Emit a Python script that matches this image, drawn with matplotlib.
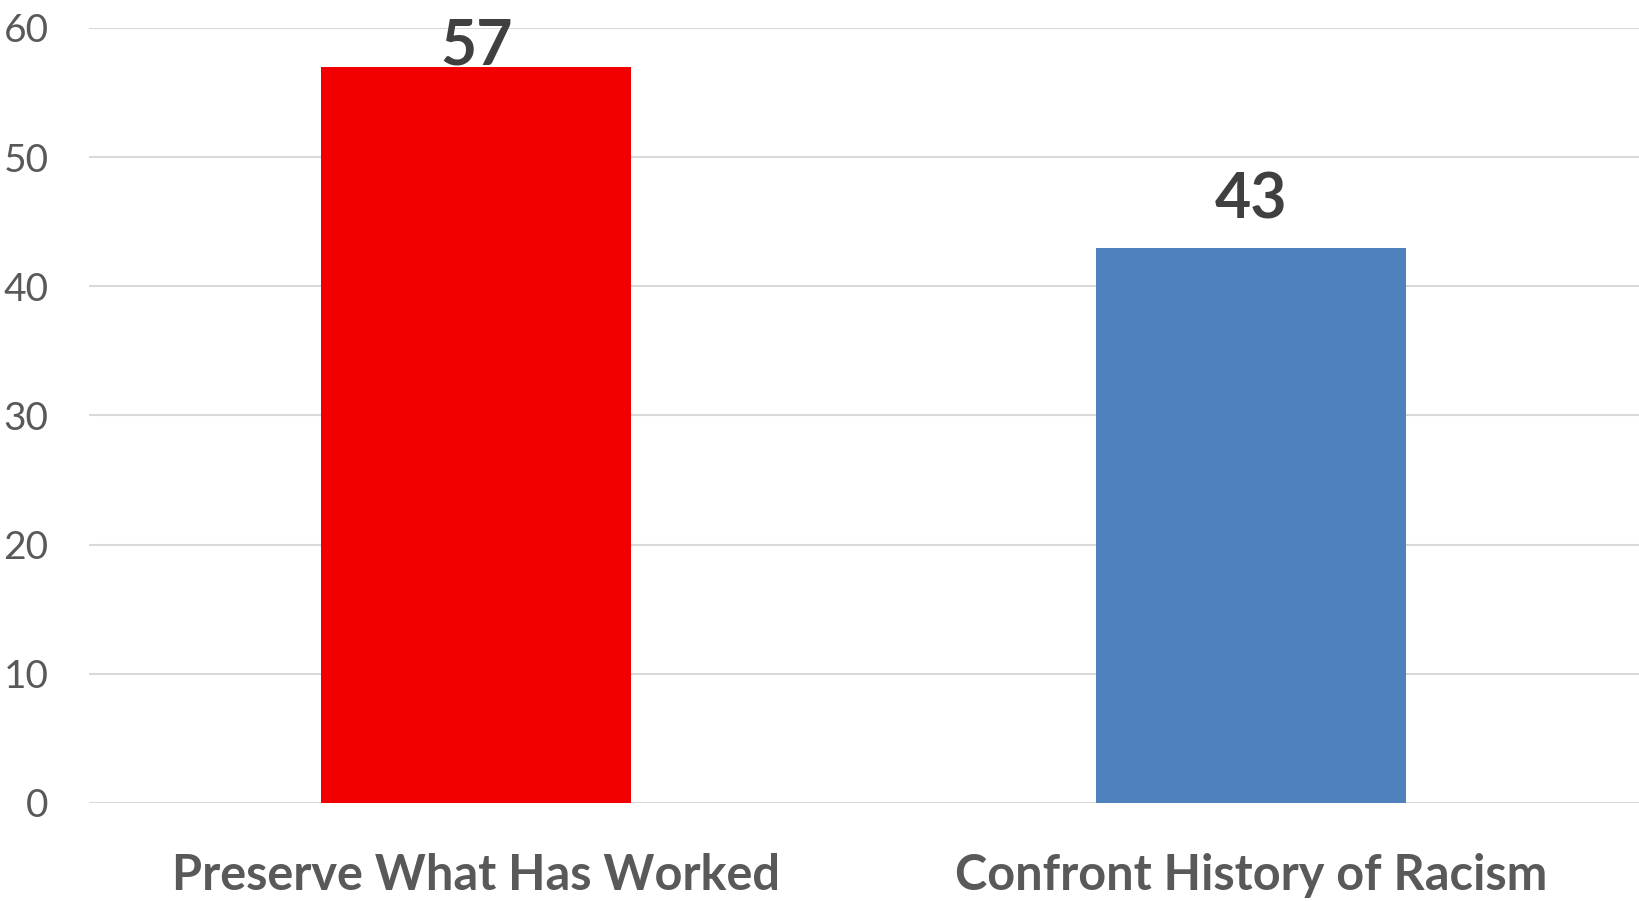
import matplotlib
matplotlib.use("Agg")
import matplotlib.pyplot as plt

GRID, TICK, LABEL, VALUE = "#d9d9d9", "#595959", "#595959", "#404040"
plt.rcParams["font.family"] = ["Lato", "DejaVu Sans"]

categories = ["Preserve What Has Worked", "Confront History of Racism"]
values = [57, 43]
colors = ["#f20000", "#4f81bd"]
yticks = [0, 10, 20, 30, 40, 50, 60]

fig = plt.figure(figsize=(16.39, 9.01), dpi=100)
ax = fig.add_axes([0.0543, 0.1088, 0.9457, 0.8602])

x = range(len(categories))
bars = ax.bar(x, values, width=0.4, color=colors, zorder=3)
# value labels sit above each bar, pushed down when they'd run off the top
for b, v in zip(bars, values):
    ax.text(b.get_x() + b.get_width() / 2, min(v + 2.25, 57.15), str(v),
            ha="center", va="baseline", fontsize=45, fontweight="bold",
            color=VALUE, zorder=4)

ax.set_xlim(-0.5, 1.5)
ax.set_ylim(0, 60)
ax.set_yticks(yticks)
ax.grid(axis="y", color=GRID, linewidth=1.5, zorder=0)
ax.set_xticks(list(x))
ax.set_xticklabels(categories, fontsize=35, fontweight="bold", color=LABEL)
ax.tick_params(axis="x", length=0, pad=36)
ax.tick_params(axis="y", length=0, pad=29, labelsize=28, labelcolor=TICK)
for s in ax.spines.values():
    s.set_visible(False)

fig.savefig("out.png", dpi=100, facecolor="white")
